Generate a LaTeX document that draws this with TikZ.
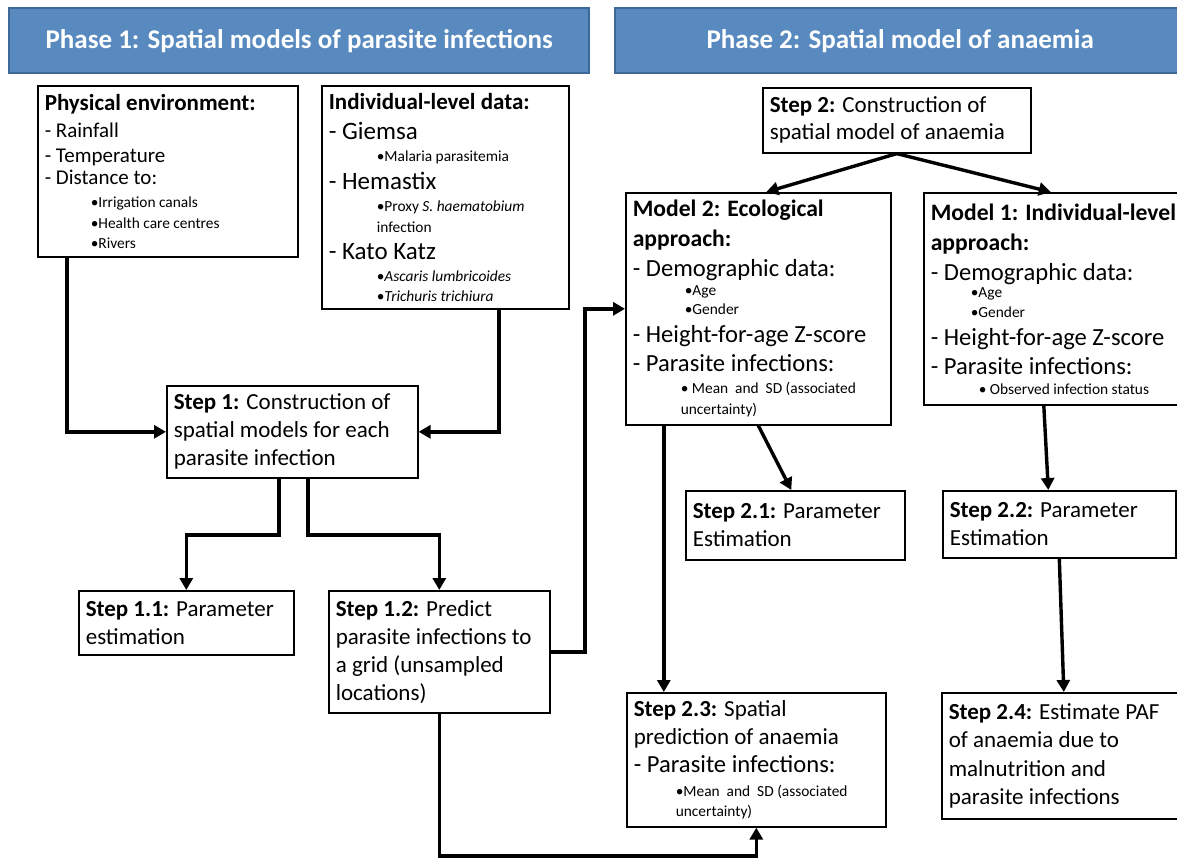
\documentclass[tikz,border=0pt]{standalone}
\usepackage{fontspec}
\setmainfont{Carlito}
\usetikzlibrary{arrows.meta}

\definecolor{phasefill}{RGB}{88,138,192}
\definecolor{phaseline}{RGB}{62,104,152}

\newcommand{\smallbul}[2][24pt]{\hspace*{#1}{\fontsize{7.7}{9}\selectfont\textbullet#2}}
\newcommand{\smallcont}[2][24pt]{\hspace*{#1}{\fontsize{7.7}{9}\selectfont#2}}

\tikzset{
  phase/.style={draw=phaseline, line width=1.2pt, fill=phasefill, text=white,
    font=\bfseries\fontsize{13.5}{15}\selectfont, anchor=north west,
    minimum height=32.5pt, inner sep=0pt},
  box/.style={draw, line width=0.8pt, anchor=north west, align=flush left,
    inner xsep=3.5pt, inner ysep=2pt},
  steptext/.style={font=\fontsize{11.5}{14}\selectfont},
  flow/.style={line width=1.7pt, -{Triangle[length=6pt,width=6.5pt]}}
}

\begin{document}
\begin{tikzpicture}[x=0.5pt, y=-0.5pt]
  \useasboundingbox (0,0) rectangle (1177,859);

  \node[phase, minimum width=290pt] (phaseone) at (8,7) {Phase 1: Spatial models of parasite infections};
  \node[phase, minimum width=285pt] (phasetwo) at (614,7) {Phase 2: Spatial model of anaemia};

  \node[box, font=\fontsize{10.5}{12.5}\selectfont, text width=123pt, minimum height=85.5pt] (phys) at (37,85)
    {{\bfseries\fontsize{11.5}{12.5}\selectfont Physical environment:}\\[1pt]
     - Rainfall\\
     - Temperature\\[-1.5pt]
     - Distance to:\\[-1pt]
     \smallbul[23pt]{Irrigation canals}\\[-2pt]
     \smallbul[23pt]{Health care centres}\\[-2.5pt]
     \smallbul[23pt]{Rivers}};

  \node[box, font=\fontsize{12.5}{14}\selectfont, text width=116.5pt, minimum height=111.5pt] (indiv) at (321,85)
    {{\bfseries\fontsize{11.5}{14}\selectfont Individual-level data:}\\[1pt]
     - Giemsa\\[-3pt]
     \smallbul{Malaria parasitemia}\\
     - Hemastix\\[-3pt]
     \smallbul{Proxy \textit{S. haematobium}}\\[-3.5pt]
     \smallcont{infection}\\[-0.5pt]
     - Kato Katz\\[-3pt]
     \smallbul{\textit{Ascaris lumbricoides}}\\[-4pt]
     \smallbul{\textit{Trichuris trichiura}}};

  \node[box, steptext, text width=118.5pt, minimum height=46pt] (step1) at (166,385)
    {\textbf{Step 1:} Construction of\\ spatial models for each\\ parasite infection};
  \node[box, steptext, text width=100.5pt, minimum height=32pt] (step11) at (78,590)
    {\textbf{Step 1.1:} Parameter\\ estimation};
  \node[box, steptext, text width=103.5pt, minimum height=61pt] (step12) at (328,590)
    {\textbf{Step 1.2:} Predict\\ parasite infections to\\ a grid (unsampled\\ locations)};

  \node[box, font=\fontsize{11.5}{13.5}\selectfont, text width=127pt, minimum height=32.5pt] (step2) at (762,87)
    {\textbf{Step 2:} Construction of\\ spatial model of anaemia};

  \node[box, font=\fontsize{12.3}{14.5}\selectfont, text width=125.5pt, minimum height=116pt] (model2) at (625,192)
    {{\bfseries\fontsize{11.8}{14.5}\selectfont Model 2: Ecological}\\[0.5pt]
     {\bfseries\fontsize{11.8}{14.5}\selectfont approach:}\\[0.5pt]
     - Demographic data:\\[-5pt]
     \smallbul[26pt]{Age}\\[-5pt]
     \smallbul[26pt]{Gender}\\[-0.5pt]
     - Height-for-age Z-score\\
     - Parasite infections:\\[-3.5pt]
     \smallbul{ Mean\ \ and\ \ SD (associated}\\[-4pt]
     \smallcont{uncertainty)}};

  \node[box, font=\fontsize{12.3}{14.5}\selectfont, text width=123pt, minimum height=106pt] (model1) at (923,192)
    {{\bfseries\fontsize{11.8}{14.5}\selectfont Model 1: Individual-level}\\[0.5pt]
     {\bfseries\fontsize{11.8}{14.5}\selectfont approach:}\\[0.5pt]
     - Demographic data:\\[-6pt]
     \smallbul[20pt]{Age}\\[-4.5pt]
     \smallbul[20pt]{Gender}\\[-0.5pt]
     - Height-for-age Z-score\\
     - Parasite infections:\\[-4.5pt]
     \smallbul[24pt]{ Observed infection status}};

  \node[box, steptext, text width=102.5pt, minimum height=34.5pt] (step21) at (685,490)
    {\textbf{Step 2.1:} Parameter\\ Estimation};
  \node[box, steptext, text width=109.5pt, minimum height=33.5pt] (step22) at (942,490)
    {\textbf{Step 2.2:} Parameter\\ Estimation};
  \node[box, steptext, text width=122.5pt, minimum height=67pt] (step23) at (626,692)
    {\textbf{Step 2.3:} Spatial\\
     prediction of anaemia\\
     {\fontsize{12.3}{14}\selectfont - Parasite infections:}\\[-2pt]
     \smallbul[21pt]{Mean\ \ and\ \ SD (associated}\\[-4pt]
     \smallcont[21pt]{uncertainty)}};
  \node[box, font=\fontsize{11.5}{14.25}\selectfont, text width=115pt, minimum height=63pt] (step24) at (941,692)
    {\textbf{Step 2.4:} Estimate PAF\\ of anaemia due to\\ malnutrition and\\ parasite infections};

  \coordinate (split) at (0,535);
  \coordinate (jog) at (585,0);
  \coordinate (floor) at (0,856);

  \draw[flow] ([xshift=15pt]phys.south west) |- (step1.west);
  \draw[flow] ([xshift=26.75pt]indiv.south) |- (step1.east);
  \draw[flow] ([xshift=-6.75pt]step1.south) |- (step11.north |- split) -- (step11.north);
  \draw[flow] ([xshift=7.75pt]step1.south) |- (step12.north |- split) -- (step12.north);
  \draw[flow] (step12.east) -| (jog |- model2.west) -- (model2.west);
  \draw[flow] (step12.south) |- (step23.south |- floor) -- (step23.south);

  \draw[flow] (step2.south) -- ([xshift=4pt]model2.north);
  \draw[flow] (step2.south) -- ([xshift=-1.5pt]model1.north);
  \draw[flow] ([xshift=-47.25pt]model2.south) -- ([xshift=-47.25pt]model2.south |- step23.north);
  \draw[flow] (model2.south) -- ([xshift=-2pt]step21.north);
  \draw[flow] ([xshift=-5pt]model1.south) -- ([xshift=-5.5pt]step22.north);
  \draw[flow] (step22.south) -- (step24.north);
\end{tikzpicture}
\end{document}
